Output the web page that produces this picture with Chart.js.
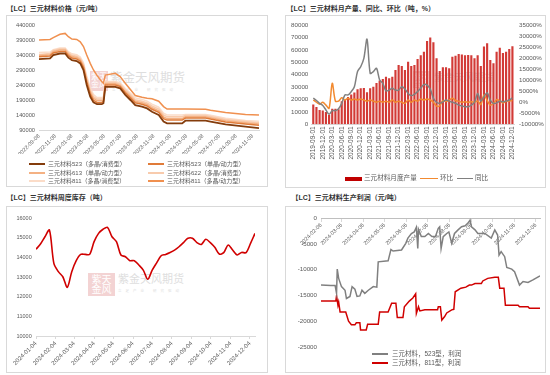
<!DOCTYPE html>
<html lang="zh-CN">
<head>
<meta charset="utf-8">
<title>三元材料</title>
<script src="https://cdn.jsdelivr.net/npm/chart.js@4.4.1/dist/chart.umd.min.js"></script>
<style>
  html, body { margin: 0; padding: 0; background: #fff; }
  body { position: relative; width: 550px; height: 375px; overflow: hidden;
         font-family: "Liberation Sans", "Noto Sans CJK SC", sans-serif; }
  .title { position: absolute; font-size: 7px; font-weight: bold; color: #333; line-height: 7px; white-space: nowrap; }
  .box { position: absolute; border: 1px solid #d9d9d9; box-sizing: border-box; }
  .cv { position: absolute; }
  .leg { position: absolute; display: flex; align-items: center; height: 8px; color: #595959; white-space: nowrap; line-height: 1; }
  .leg span { display: inline-block; }
  .wm-logo { position: absolute; background: #f3d3d3; color: #fff; text-align: center; line-height: 1; overflow: hidden; }
  .wm-text { position: absolute; color: #dedede; white-space: nowrap; line-height: 1; }
</style>
</head>
<body>
  <div class="title" style="left:6.5px;top:4.8px">【LC】三元材料价格（元/吨）</div>
  <div class="title" style="left:286.5px;top:4.8px">【LC】三元材料月产量、同比、环比（吨，%）</div>
  <div class="title" style="left:6.5px;top:193.8px">【LC】三元材料周度库存（吨）</div>
  <div class="title" style="left:291.5px;top:193.8px">【LC】三元材料生产利润（元/吨）</div>

  <div class="box" style="left:6px;top:15px;width:262px;height:172px"></div>
  <div class="box" style="left:285px;top:15px;width:261px;height:173px"></div>
  <div class="box" style="left:6px;top:206px;width:262px;height:167px"></div>
  <div class="box" style="left:285px;top:206px;width:261px;height:167px"></div>

  <!-- watermarks -->
  <div class="wm-logo" style="left:90px;top:71px;width:18px;height:20px;font-size:8px;padding-top:2px;box-sizing:border-box">紫天<br>金风</div>
  <div class="wm-text" style="left:110px;top:72px;font-size:12.5px">紫金天风期货</div>
  <div class="wm-text" style="left:112px;top:89px;font-size:3.5px;letter-spacing:4px">立足产业 研究驱动</div>
  <div class="wm-logo" style="left:413px;top:71px;width:17px;height:17px;font-size:7px;padding-top:2px;box-sizing:border-box">紫天<br>金风</div>
  <div class="wm-text" style="left:434px;top:73px;font-size:10px">紫金天风期货</div>
  <div class="wm-logo" style="left:88px;top:273px;width:27px;height:23px;font-size:10px;padding-top:2px;box-sizing:border-box">紫天<br>金风</div>
  <div class="wm-text" style="left:118px;top:273.5px;font-size:11px">紫金天风期货</div>
  <div class="wm-text" style="left:118px;top:290px;font-size:3.5px;letter-spacing:4px">立足产业 研究驱动</div>

  <div class="cv" style="left:7px;top:16px;width:260px;height:170px"><canvas id="priceChart"></canvas></div>
  <div class="cv" style="left:286px;top:16px;width:259px;height:171px"><canvas id="prodChart"></canvas></div>
  <div class="cv" style="left:7px;top:207px;width:260px;height:165px"><canvas id="invChart"></canvas></div>
  <div class="cv" style="left:286px;top:207px;width:259px;height:165px"><canvas id="profitChart"></canvas></div>

<script>
// ===== Data =====

// Panel 1: ternary material prices (yuan/ton)
const priceDates = [
  "2022-09-08", "2022-10-19", "2022-10-31", "2022-11-25", "2022-12-14", "2022-12-26",
  "2023-01-08", "2023-01-26", "2023-02-08", "2023-02-20", "2023-03-04", "2023-03-17",
  "2023-03-29", "2023-04-11", "2023-04-29", "2023-05-05", "2023-05-12", "2023-06-18",
  "2023-07-06", "2023-07-25", "2023-08-13", "2023-08-31", "2023-09-25", "2023-10-14",
  "2023-11-01", "2023-11-26", "2023-12-14", "2023-12-27", "2024-02-21", "2024-03-04",
  "2024-05-18", "2024-06-05", "2024-07-31", "2024-10-13", "2024-12-02",
];
const price523Poly = [326000, 329000, 340000, 345000, 345000, 331000, 323000, 320000, 312000, 290000, 240000, 201000, 182000, 176000, 176000, 179000, 234000, 234000, 229000, 207000, 190000, 173000, 168000, 162000, 151000, 140000, 118000, 112000, 112000, 121000, 121000, 118000, 109000, 101000, 96000];
const price523Single = [334000, 337000, 347000, 352000, 352000, 338000, 330000, 327000, 319000, 298000, 250000, 210000, 189000, 182000, 182000, 185000, 240000, 240000, 235000, 214000, 197000, 181000, 176000, 170000, 159000, 149000, 128000, 123000, 123000, 130000, 130000, 127000, 117000, 110000, 106000];
const price613Single = [338000, 341000, 351000, 357000, 357000, 343000, 335000, 332000, 324000, 303000, 256000, 216000, 195000, 188000, 188000, 190000, 244000, 244000, 239000, 218000, 202000, 186000, 181000, 175000, 164000, 154000, 134000, 128000, 128000, 134000, 134000, 131000, 121000, 114000, 110000];
const price622Poly = [342000, 345000, 355000, 360000, 360000, 347000, 339000, 336000, 328000, 308000, 262000, 222000, 201000, 193000, 193000, 195000, 248000, 248000, 243000, 223000, 207000, 191000, 186000, 180000, 170000, 160000, 140000, 134000, 134000, 138000, 138000, 135000, 125000, 118000, 114000];
const price811Poly = [348000, 350000, 358000, 363000, 363000, 351000, 344000, 341000, 333000, 314000, 270000, 230000, 208000, 198000, 198000, 200000, 252000, 252000, 247000, 228000, 212000, 197000, 192000, 186000, 176000, 166000, 146000, 140000, 140000, 142000, 142000, 139000, 129000, 122000, 119000];
const price811Power = [390000, 392000, 398000, 409000, 412000, 401000, 393000, 392000, 384000, 368000, 340000, 312000, 290000, 272000, 251000, 246000, 273000, 279000, 268000, 246000, 225000, 205000, 199000, 196000, 194000, 186000, 168000, 160000, 160000, 160000, 159000, 156000, 148000, 142000, 140000];
const priceTicks = [
  "2022-09-08", "2022-11-08", "2023-01-08", "2023-03-08", "2023-05-08", "2023-07-08", "2023-09-08",
  "2023-11-08", "2024-01-08", "2024-03-08", "2024-05-08", "2024-07-08", "2024-09-08", "2024-11-08",
];
const priceYTicks = [90000, 140000, 190000, 240000, 290000, 340000, 390000, 440000];

// Panel 2: monthly output (tons), MoM and YoY (%)
const prodMonths = [
  "2019-09-01", "2019-10-01", "2019-11-01", "2019-12-01",
  "2020-01-01", "2020-02-01", "2020-03-01", "2020-04-01", "2020-05-01", "2020-06-01",
  "2020-07-01", "2020-08-01", "2020-09-01", "2020-10-01", "2020-11-01", "2020-12-01",
  "2021-01-01", "2021-02-01", "2021-03-01", "2021-04-01", "2021-05-01", "2021-06-01",
  "2021-07-01", "2021-08-01", "2021-09-01", "2021-10-01", "2021-11-01", "2021-12-01",
  "2022-01-01", "2022-02-01", "2022-03-01", "2022-04-01", "2022-05-01", "2022-06-01",
  "2022-07-01", "2022-08-01", "2022-09-01", "2022-10-01", "2022-11-01", "2022-12-01",
  "2023-01-01", "2023-02-01", "2023-03-01", "2023-04-01", "2023-05-01", "2023-06-01",
  "2023-07-01", "2023-08-01", "2023-09-01", "2023-10-01", "2023-11-01", "2023-12-01",
  "2024-01-01", "2024-02-01", "2024-03-01", "2024-04-01", "2024-05-01", "2024-06-01",
  "2024-07-01", "2024-08-01", "2024-09-01", "2024-10-01", "2024-11-01", "2024-12-01",
];
const prodTons = [
  16000, 14000, 11500, 11200, 10000, 7500, 12500, 12500, 12200, 18500,
  19500, 22000, 24000, 25600, 28300, 29000, 29300, 25800, 29000, 30300,
  33300, 35300, 36500, 38400, 37100, 38400, 43800, 47800, 47000, 43800,
  50400, 47000, 47800, 52600, 55600, 58500, 67100, 70000, 66100, 53200,
  43000, 45900, 45900, 45100, 54500, 55200, 56700, 56200, 55600, 55900,
  55600, 53200, 55600, 47000, 62600, 65300, 51800, 49200, 58500, 61700,
  57500, 58500, 60700, 62900,
];
const prodMoM = [
  1000, 0, -900, 0, -1300, -2800, 8600, 500, 500, 2000,
  1000, 1800, 1000, 1500, 1000, 1500, 1000, 500, 1000, 500,
  0, 500, 0, 500, 0, 1000, 0, 500, 0, -500,
  1000, 0, 1000, 500, 1500, 1000, 1500, 1000, 0, -1800,
  -1600, 800, 300, 1000, 1800, 800, 500, 0, 200, 0,
  200, 0, 500, -1000, 3300, 800, -1300, -600, 1200, 600,
  -300, 400, 600, 800,
];
const prodYoY = [
  1900, 800, -500, -1500, -3500, -5500, -3800, -3800, -3000, -500,
  3300, 3300, 4800, 7000, 13900, 16100, 19900, 28600, 13100, 13900,
  15400, 10100, 8600, 5100, 5500, 6300, 5500, 5500, 7000, 6000,
  4000, 3000, 3600, 4800, 6500, 8000, 7800, 6000, 1800, 0,
  -500, 200, 1000, 500, 0, -500, -1300, -1700, -2000, -2000,
  -1300, 0, 4000, 500, 2500, 4300, 1000, -500, -300, 500,
  200, 600, 1000, 2000,
];

// Panel 3: weekly inventory (tons)
const invDates = [
  "2024-01-04", "2024-01-11", "2024-01-18", "2024-01-25", "2024-02-01", "2024-02-08", "2024-02-15",
  "2024-02-22", "2024-02-29", "2024-03-07", "2024-03-14", "2024-03-21", "2024-03-28", "2024-04-04",
  "2024-04-11", "2024-04-18", "2024-04-25", "2024-05-02", "2024-05-09", "2024-05-16", "2024-05-23",
  "2024-05-30", "2024-06-06", "2024-06-13", "2024-06-20", "2024-06-27", "2024-07-04", "2024-07-11",
  "2024-07-18", "2024-07-25", "2024-08-01", "2024-08-08", "2024-08-15", "2024-08-22", "2024-08-29",
  "2024-09-05", "2024-09-12", "2024-09-19", "2024-09-26", "2024-10-03", "2024-10-10", "2024-10-17",
  "2024-10-24", "2024-10-31", "2024-11-07", "2024-11-14", "2024-11-21", "2024-11-28", "2024-12-05",
  "2024-12-12",
];
const invTons = [
  14420, 14690, 15060, 15400, 13700, 13280, 13020, 12480, 13280, 13840,
  14160, 14160, 14160, 14810, 15230, 15440, 15540, 15060, 14810, 14130,
  14040, 13840, 13840, 13620, 13360, 12890, 13360, 13730, 14090, 14160,
  14260, 14380, 14550, 14760, 14980, 14980, 14760, 14670, 14930, 14760,
  14520, 14180, 14250, 14640, 14380, 14130, 14260, 14250, 14720, 15230,
];
const invTicks = [
  "2024-01-04", "2024-02-04", "2024-03-04", "2024-04-04", "2024-05-04", "2024-06-04",
  "2024-07-04", "2024-08-04", "2024-09-04", "2024-10-04", "2024-11-04", "2024-12-04",
];

// Panel 4: production profit (yuan/ton)
const profit523Dates = [
  "2024-02-06", "2024-02-20", "2024-02-26", "2024-02-28", "2024-02-29", "2024-03-02", "2024-03-06",
  "2024-03-11", "2024-03-13", "2024-03-18", "2024-03-21", "2024-03-25", "2024-03-28", "2024-04-01",
  "2024-04-04", "2024-04-08", "2024-04-13", "2024-04-20", "2024-04-25", "2024-04-27", "2024-05-11",
  "2024-05-15", "2024-05-18", "2024-05-30", "2024-06-05", "2024-06-08", "2024-06-13", "2024-06-17",
  "2024-06-20", "2024-06-22", "2024-06-23", "2024-06-27", "2024-07-02", "2024-07-07", "2024-07-12",
  "2024-07-17", "2024-07-21", "2024-07-23", "2024-07-25", "2024-07-28", "2024-08-02", "2024-08-05",
  "2024-08-09", "2024-08-13", "2024-08-18", "2024-08-23", "2024-08-28", "2024-09-01", "2024-09-04",
  "2024-09-06", "2024-09-11", "2024-09-15", "2024-09-25", "2024-10-04", "2024-10-09", "2024-10-13",
  "2024-10-15", "2024-10-18", "2024-10-23", "2024-10-26", "2024-11-02", "2024-11-06", "2024-11-13",
  "2024-11-18", "2024-11-25", "2024-12-02", "2024-12-12",
];
const profit523 = [
  -13000, -13100, -13100, -14600, -9900, -11700, -13300, -14000, -15600, -15200,
  -13300, -13800, -15200, -15100, -14000, -14600, -14000, -13300, -13400, -8500,
  -8300, -6100, -6400, -6200, -4900, -3900, -3000, -2700, -1800, -5900,
  -2200, -3600, -3600, -3000, -3600, -3600, -2000, -1700, -5900, -3600,
  -3000, -2700, -4900, -3000, -2300, -1700, -1500, -1000, -400, -1700,
  -2300, -3000, -3000, -3900, -2300, -3300, -7200, -6500, -7500, -9600,
  -9900, -10400, -13000, -12300, -12500, -12000, -11200,
];
const profit811Dates = [
  "2024-02-06", "2024-02-27", "2024-02-28", "2024-03-01", "2024-03-02", "2024-03-04", "2024-03-12",
  "2024-03-16", "2024-03-20", "2024-03-25", "2024-03-27", "2024-04-01", "2024-04-02", "2024-04-10",
  "2024-04-12", "2024-04-27", "2024-04-29", "2024-05-11", "2024-05-16", "2024-05-22", "2024-05-24",
  "2024-06-01", "2024-06-03", "2024-06-10", "2024-06-15", "2024-06-19", "2024-06-20", "2024-06-23",
  "2024-06-25", "2024-07-02", "2024-07-20", "2024-07-21", "2024-07-24", "2024-07-26", "2024-07-30",
  "2024-08-02", "2024-08-09", "2024-08-12", "2024-08-14", "2024-08-22", "2024-08-29", "2024-09-03",
  "2024-09-06", "2024-09-11", "2024-09-20", "2024-09-22", "2024-09-29", "2024-10-09", "2024-10-14",
  "2024-10-16", "2024-10-22", "2024-10-24", "2024-11-11", "2024-11-13", "2024-11-25", "2024-11-27",
  "2024-12-12",
];
const profit811 = [
  -16100, -16100, -15100, -16900, -16300, -18200, -18200, -20000, -20700, -20700,
  -20300, -20300, -21700, -21700, -20600, -20600, -18200, -18200, -16500, -16500,
  -19300, -19300, -17200, -16100, -15500, -14700, -18500, -17200, -18000, -17800,
  -17800, -17200, -17200, -19800, -19100, -18400, -17800, -17700, -14300, -13600,
  -13400, -13000, -13000, -12700, -12700, -12200, -11700, -11500, -11500, -13600,
  -13600, -16900, -16900, -17200, -17200, -17500, -17500,
];
const profitTicks = [
  "2024-02-06", "2024-03-06", "2024-04-06", "2024-05-06", "2024-06-06", "2024-07-06",
  "2024-08-06", "2024-09-06", "2024-10-06", "2024-11-06", "2024-12-06",
];

// ===== Helpers =====
const DAY = 86400000;
const toDay = (s) => Date.parse(s) / DAY;
const fromDay = (d) => new Date(d * DAY).toISOString().slice(0, 10);
const points = (dates, values) => dates.map((d, i) => ({ x: toDay(d), y: values[i] }));
const fixTicks = (values) => (axis) => { axis.ticks = values.map((v) => ({ value: v })); };
const fixWidth = (w) => (axis) => { axis.width = w; };
const fixHeight = (h) => (axis) => { axis.height = h; };
const plain = (v) => String(v);
const noGrid = { display: false, drawTicks: false };

Chart.defaults.font.family = '"Liberation Sans", "Noto Sans CJK SC", sans-serif';
Chart.defaults.color = "#595959";
Chart.defaults.animation = false;
Chart.defaults.plugins.legend.display = false;
Chart.defaults.plugins.tooltip.enabled = false;
Chart.defaults.elements.point.radius = 0;

function addLegend(items) {
  items.forEach((it) => {
    const row = document.createElement("div");
    row.className = "leg";
    row.style.left = it.x + "px";
    row.style.top = it.y - 4 + "px";
    row.style.fontSize = (it.size || 6) + "px";
    const sw = document.createElement("span");
    sw.style.width = (it.w || 16) + "px";
    sw.style.height = (it.h || 1.6) + "px";
    sw.style.background = it.color;
    sw.style.marginRight = (it.gap || 3) + "px";
    const txt = document.createElement("span");
    txt.textContent = it.label;
    row.append(sw, txt);
    document.body.appendChild(row);
  });
}

// ===== Panel 1: prices =====
const priceSeries = [
  { label: "三元材料523（多晶/消费型）", data: price523Poly, color: "#843c0c", width: 1.8 },
  { label: "三元材料523（单晶/动力型）", data: price523Single, color: "#e07b39", width: 1.5 },
  { label: "三元材料613（单晶/动力型）", data: price613Single, color: "#f4b183", width: 1.5 },
  { label: "三元材料622（多晶/消费型）", data: price622Poly, color: "#f8cbad", width: 1.5 },
  { label: "三元材料811（多晶/消费型）", data: price811Poly, color: "#fbdcc8", width: 1.5 },
  { label: "三元材料811（多晶/动力型）", data: price811Power, color: "#f0904f", width: 1.5 },
];

new Chart(document.getElementById("priceChart"), {
  type: "line",
  data: {
    datasets: priceSeries.map((s) => ({
      label: s.label,
      data: points(priceDates, s.data),
      borderColor: s.color,
      borderWidth: s.width,
      tension: 0,
    })),
  },
  options: {
    responsive: true,
    maintainAspectRatio: false,
    layout: { padding: { left: 0, right: 8, top: 9, bottom: 32 } },
    scales: {
      x: {
        type: "linear",
        min: toDay(priceDates[0]),
        max: toDay(priceDates[priceDates.length - 1]),
        afterBuildTicks: fixTicks(priceTicks.map(toDay)),
        afterFit: fixHeight(24),
        ticks: { autoSkip: false, minRotation: 45, maxRotation: 45, font: { size: 5.5 }, padding: 3, callback: (v) => fromDay(v) },
        grid: noGrid,
        border: { color: "#d9d9d9" },
      },
      y: {
        min: 90000,
        max: 440000,
        afterBuildTicks: fixTicks(priceYTicks),
        afterFit: fixWidth(32),
        ticks: { font: { size: 5.7 }, padding: 4, callback: plain },
        grid: noGrid,
        border: { display: false },
      },
    },
  },
});

const colX = [29, 148];
const rowY = [164.3, 172.7, 181];
addLegend(priceSeries.map((s, i) => ({
  x: colX[i % 2], y: rowY[Math.floor(i / 2)], label: s.label, color: s.color, w: 16, h: 1.8, gap: 3, size: 6,
})));

// ===== Panel 2: monthly output =====
new Chart(document.getElementById("prodChart"), {
  type: "bar",
  data: {
    labels: prodMonths,
    datasets: [
      {
        label: "同比",
        type: "line",
        data: prodYoY,
        yAxisID: "y1",
        borderColor: "#808080",
        borderWidth: 1.5,
        tension: 0.3,
        order: 0,
      },
      {
        label: "环比",
        type: "line",
        data: prodMoM,
        yAxisID: "y1",
        borderColor: "#f28a30",
        borderWidth: 1.5,
        tension: 0.3,
        order: 1,
      },
      {
        label: "三元材料月度产量",
        data: prodTons,
        yAxisID: "y",
        backgroundColor: "#d23a36",
        barPercentage: 0.68,
        categoryPercentage: 1,
        order: 2,
      },
    ],
  },
  options: {
    responsive: true,
    maintainAspectRatio: false,
    layout: { padding: { left: 0, right: 0, top: 9, bottom: 22.7 } },
    scales: {
      x: {
        afterFit: fixHeight(40),
        ticks: {
          autoSkip: false, minRotation: 90, maxRotation: 90, font: { size: 6.5 }, padding: 2,
          callback: (v, i) => (i % 3 === 0 ? prodMonths[i] : ""),
        },
        grid: noGrid,
        border: { color: "#d9d9d9" },
      },
      y: {
        position: "left",
        min: 0,
        max: 80000,
        ticks: { stepSize: 10000, font: { size: 6.2 }, padding: 3.4, callback: plain },
        afterFit: fixWidth(25.7),
        grid: noGrid,
        border: { display: false },
      },
      y1: {
        position: "right",
        min: -10000,
        max: 35000,
        ticks: { stepSize: 5000, font: { size: 6.2 }, padding: 5, callback: (v) => v + "%" },
        afterFit: fixWidth(31),
        grid: noGrid,
        border: { display: false },
      },
    },
  },
});

addLegend([
  { x: 345, y: 178.5, label: "三元材料月度产量", color: "#c00000", w: 17, h: 4, gap: 2, size: 6.6 },
  { x: 420, y: 178.5, label: "环比", color: "#f28a30", w: 18, h: 1.6, gap: 2, size: 6.6 },
  { x: 457, y: 178.5, label: "同比", color: "#808080", w: 16, h: 1.6, gap: 2, size: 6.6 },
]);

// ===== Panel 3: weekly inventory =====
new Chart(document.getElementById("invChart"), {
  type: "line",
  data: {
    datasets: [
      {
        label: "三元材料周度库存",
        data: points(invDates, invTons),
        borderColor: "#d00000",
        borderWidth: 1.6,
        tension: 0.3,
      },
    ],
  },
  options: {
    responsive: true,
    maintainAspectRatio: false,
    layout: { padding: { left: 0, right: 12, top: 11.3, bottom: 6 } },
    scales: {
      x: {
        type: "linear",
        min: toDay(invDates[0]),
        max: toDay(invDates[invDates.length - 1]),
        afterBuildTicks: fixTicks(invTicks.map(toDay)),
        afterFit: fixHeight(30),
        ticks: { autoSkip: false, minRotation: 45, maxRotation: 45, font: { size: 6 }, padding: 1, callback: (v) => fromDay(v) },
        grid: { drawOnChartArea: false, tickLength: 3, color: "#d9d9d9" },
        border: { color: "#d9d9d9" },
      },
      y: {
        min: 10000,
        max: 16000,
        ticks: { stepSize: 1000, font: { size: 5.5 }, padding: 4.3, callback: plain },
        afterFit: fixWidth(29),
        grid: noGrid,
        border: { display: false },
      },
    },
  },
});

// ===== Panel 4: production profit =====
const profitSeries = [
  { label: "三元材料，523型，利润", dates: profit523Dates, data: profit523, color: "#808080" },
  { label: "三元材料，811型，利润", dates: profit811Dates, data: profit811, color: "#d00000" },
];

new Chart(document.getElementById("profitChart"), {
  type: "line",
  data: {
    datasets: profitSeries.map((s) => ({
      label: s.label,
      data: points(s.dates, s.data),
      borderColor: s.color,
      borderWidth: 1.5,
      tension: 0,
    })),
  },
  options: {
    responsive: true,
    maintainAspectRatio: false,
    layout: { padding: { left: 0, right: 5, top: 11, bottom: 25 } },
    scales: {
      x: {
        type: "linear",
        position: { y: 0 },
        min: toDay(profit523Dates[0]),
        max: toDay(profit523Dates[profit523Dates.length - 1]),
        afterBuildTicks: fixTicks(profitTicks.map(toDay)),
        ticks: { autoSkip: false, minRotation: 45, maxRotation: 45, font: { size: 5.5 }, padding: 1, callback: (v) => fromDay(v) },
        grid: { drawOnChartArea: false, tickLength: 3, color: "#d9d9d9" },
        border: { color: "#bfbfbf" },
      },
      y: {
        min: -25000,
        max: 0,
        ticks: { stepSize: 5000, font: { size: 6.2 }, padding: 4, callback: plain },
        afterFit: fixWidth(35),
        grid: noGrid,
        border: { display: false },
      },
    },
  },
});

addLegend(profitSeries.map((s, i) => ({
  x: 372, y: 354 + i * 9, label: s.label, color: s.color, w: 16, h: 1.6, gap: 4, size: 6.5,
})));
</script>
</body>
</html>
